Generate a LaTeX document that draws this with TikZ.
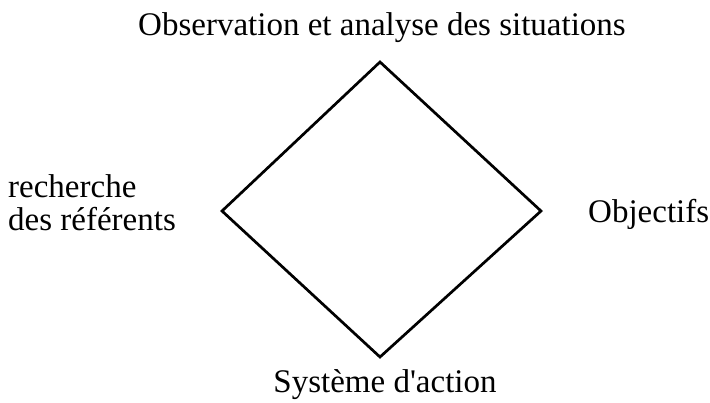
\documentclass[tikz,border=0pt]{standalone}
\usepackage{fontspec}
\setmainfont{Liberation Serif}
\begin{document}
\begin{tikzpicture}[x=1pt,y=-1pt,
  lbl/.style={inner sep=0pt,font=\fontsize{33}{33}\selectfont},
  edge/.style={line width=2.7pt,line join=miter}]
\useasboundingbox (0,0) rectangle (710,402);
\coordinate (T) at (380,62);
\coordinate (L) at (222,211);
\coordinate (R) at (541,211);
\coordinate (B) at (380,357);
\draw[edge] (T) -- (R) -- (B) -- (L) -- cycle;
\node[lbl,anchor=base] (top) at (382,35) {Observation et analyse des situations};
\node[lbl,anchor=base west] (left1) at (8,197) {recherche};
\node[lbl,anchor=base west] (left2) at (8,230) {des référents};
\node[lbl,anchor=base west] (right) at (588,222) {Objectifs};
\node[lbl,anchor=base] (bot) at (385,392) {Système d\textquotesingle action};
\end{tikzpicture}
\end{document}
